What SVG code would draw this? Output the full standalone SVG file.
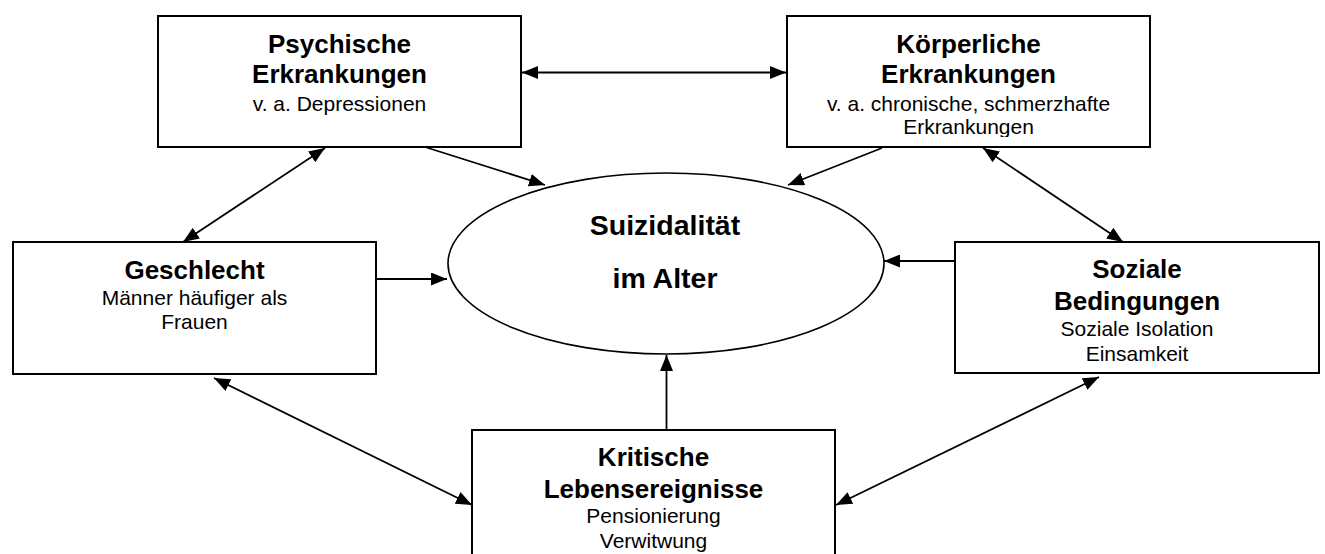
<svg xmlns="http://www.w3.org/2000/svg" width="1325" height="554" viewBox="0 0 1325 554">
<style>
.box{fill:#fff;stroke:#000;stroke-width:2}
.ell{fill:#fff;stroke:#000;stroke-width:1.6}
.t{font-family:"Liberation Sans",Arial,sans-serif;font-weight:bold;font-size:26px;text-anchor:middle;fill:#000}
.s{font-family:"Liberation Sans",Arial,sans-serif;font-size:21px;text-anchor:middle;fill:#000}
.e{font-family:"Liberation Sans",Arial,sans-serif;font-weight:bold;font-size:28.5px;text-anchor:middle;fill:#000}
.c{stroke:#000;stroke-width:1.8;fill:none}
</style>
<defs>
<marker id="ah" viewBox="0 0 16 13" refX="16" refY="6.5" markerWidth="16" markerHeight="13" markerUnits="userSpaceOnUse" orient="auto-start-reverse">
<path d="M0,0 L16,6.5 L0,13 z" fill="#000"/>
</marker>
<clipPath id="kclip"><rect x="787" y="16" width="363" height="121"/></clipPath>
</defs>
<rect width="1325" height="554" fill="#fff"/>

<g id="psychische">
<rect class="box" x="158" y="16" width="363" height="131"/>
<text class="t" x="339.5" y="53">Psychische</text>
<text class="t" x="339.5" y="83">Erkrankungen</text>
<text class="s" x="339.5" y="111">v. a. Depressionen</text>
</g>

<g id="koerperliche">
<rect class="box" x="787" y="16" width="363" height="131"/>
<text class="t" x="968.5" y="53">Körperliche</text>
<text class="t" x="968.5" y="83">Erkrankungen</text>
<text class="s" x="968.5" y="111">v. a. chronische, schmerzhafte</text>
<text class="s" x="968.5" y="133.5" clip-path="url(#kclip)">Erkrankungen</text>
</g>

<g id="geschlecht">
<rect class="box" x="13" y="242" width="363" height="132"/>
<text class="t" x="194.5" y="279">Geschlecht</text>
<text class="s" x="194.5" y="305">Männer häufiger als</text>
<text class="s" x="194.5" y="329">Frauen</text>
</g>

<g id="soziale">
<rect class="box" x="955" y="242" width="364" height="131"/>
<text class="t" x="1137" y="278">Soziale</text>
<text class="t" x="1137" y="310">Bedingungen</text>
<text class="s" x="1137" y="336">Soziale Isolation</text>
<text class="s" x="1137" y="361">Einsamkeit</text>
</g>

<g id="kritische">
<rect class="box" x="472" y="430" width="363" height="140"/>
<text class="t" x="653.5" y="466">Kritische</text>
<text class="t" x="653.5" y="498">Lebensereignisse</text>
<text class="s" x="653.5" y="523">Pensionierung</text>
<text class="s" x="653.5" y="548">Verwitwung</text>
</g>

<g id="suizidalitaet">
<ellipse class="ell" cx="666" cy="263.5" rx="218" ry="90.5"/>
<text class="e" x="665" y="235">Suizidalität</text>
<text class="e" x="665" y="288">im Alter</text>
</g>

<g id="connectors">
<line class="c" x1="522" y1="72.5" x2="786" y2="72.5" marker-start="url(#ah)" marker-end="url(#ah)"/>
<line class="c" x1="425" y1="147" x2="545" y2="185" marker-end="url(#ah)"/>
<line class="c" x1="325" y1="148" x2="183" y2="242" marker-start="url(#ah)" marker-end="url(#ah)"/>
<line class="c" x1="882" y1="148" x2="788" y2="185" marker-end="url(#ah)"/>
<line class="c" x1="983" y1="148" x2="1123" y2="242" marker-start="url(#ah)" marker-end="url(#ah)"/>
<line class="c" x1="376" y1="279" x2="447" y2="279" marker-end="url(#ah)"/>
<line class="c" x1="955" y1="261" x2="884" y2="261" marker-end="url(#ah)"/>
<line class="c" x1="666.5" y1="430" x2="666.5" y2="355" marker-end="url(#ah)"/>
<line class="c" x1="214" y1="378" x2="472" y2="505" marker-start="url(#ah)" marker-end="url(#ah)"/>
<line class="c" x1="1099" y1="377" x2="836" y2="505" marker-start="url(#ah)" marker-end="url(#ah)"/>
</g>
</svg>
